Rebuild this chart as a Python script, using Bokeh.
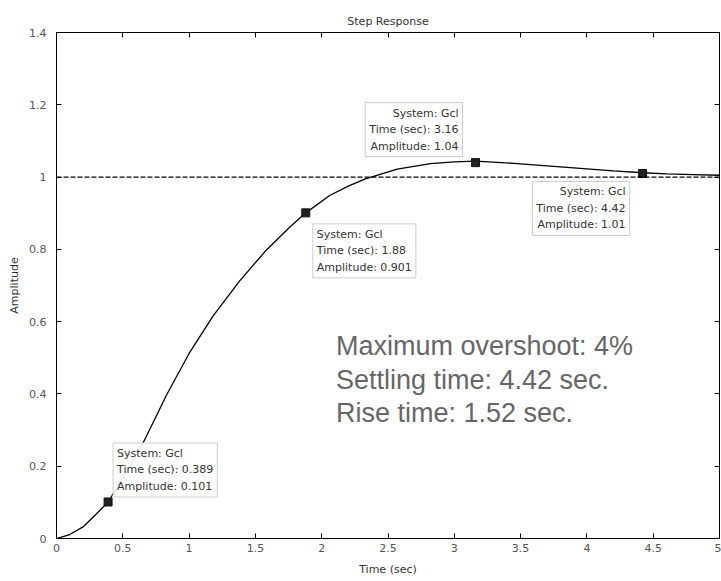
from bokeh.plotting import figure
from bokeh.models import Range1d, FixedTicker, LinearAxis, Span, Label
from bokeh.embed import file_html
from bokeh.resources import INLINE

# ---- data ----
time_s = [0, 0.1, 0.2, 0.3, 0.389, 0.5, 0.63, 0.83, 1.0, 1.18, 1.38, 1.58, 1.76,
          1.88, 2.06, 2.2, 2.33, 2.57, 2.82, 3.0, 3.16, 3.45, 3.7, 3.95, 4.2,
          4.42, 4.6, 4.8, 5.0]
amplitude = [0, 0.011, 0.032, 0.068, 0.101, 0.167, 0.247, 0.397, 0.512, 0.615, 0.712,
             0.797, 0.862, 0.901, 0.949, 0.975, 0.995, 1.022, 1.037, 1.042, 1.044,
             1.038, 1.031, 1.024, 1.017, 1.012, 1.009, 1.007, 1.005]

tip_time = [0.389, 1.88, 3.16, 4.42]
tip_amp = [0.101, 0.901, 1.04, 1.01]
tip_text = [
    "System: Gcl\nTime (sec): 0.389\nAmplitude: 0.101",
    "System: Gcl\nTime (sec): 1.88\nAmplitude: 0.901",
    "System: Gcl\nTime (sec): 3.16\nAmplitude: 1.04",
    "System: Gcl\nTime (sec): 4.42\nAmplitude: 1.01",
]

final_value = 1.0

x_ticks = [0, 0.5, 1, 1.5, 2, 2.5, 3, 3.5, 4, 4.5, 5]
x_tick_labels = ["0", "0.5", "1", "1.5", "2", "2.5", "3", "3.5", "4", "4.5", "5"]
y_ticks = [0, 0.2, 0.4, 0.6, 0.8, 1, 1.2, 1.4]
y_tick_labels = ["0", "0.2", "0.4", "0.6", "0.8", "1", "1.2", "1.4"]

notes = ["Maximum overshoot: 4%", "Settling time: 4.42 sec.", "Rise time: 1.52 sec."]

# ---- figure ----
SMALL = "DejaVu Sans"
p = figure(width=721, height=581, x_range=Range1d(0, 5), y_range=Range1d(0, 1.4),
           output_backend="svg", toolbar_location=None, title="Step Response",
           min_border_left=56, min_border_right=2, min_border_top=32,
           min_border_bottom=43)
p.title.align = "center"
p.title.text_font = SMALL
p.title.text_font_size = "11px"
p.title.text_font_style = "normal"
p.title.text_color = "#333333"
p.title.standoff = 10

p.xgrid.visible = False
p.ygrid.visible = False
p.outline_line_color = "black"
p.background_fill_color = "white"

for ax, ticks, labs in ((p.xaxis[0], x_ticks, x_tick_labels), (p.yaxis[0], y_ticks, y_tick_labels)):
    ax.ticker = FixedTicker(ticks=ticks)
    ax.major_label_overrides = dict(zip(ticks, labs))
    ax.major_tick_in = 5
    ax.major_tick_out = 0
    ax.minor_tick_line_color = None
    ax.axis_line_color = "black"
    ax.major_tick_line_color = "black"
    ax.major_label_text_font = SMALL
    ax.major_label_text_font_size = "11px"
    ax.major_label_text_color = "#555555"
    ax.axis_label_text_font = SMALL
    ax.axis_label_text_font_size = "11px"
    ax.axis_label_text_font_style = "normal"
    ax.axis_label_text_color = "#333333"

p.xaxis.axis_label = "Time (sec)"
p.xaxis.major_label_standoff = 5
p.xaxis.axis_label_standoff = 8
p.yaxis.axis_label = "Amplitude"
p.yaxis.major_label_standoff = 10
p.yaxis.axis_label_standoff = 5

top_ax = LinearAxis(ticker=FixedTicker(ticks=x_ticks),
                    major_label_overrides={t: "" for t in x_ticks},
                    major_tick_in=5, major_tick_out=0, minor_tick_line_color=None,
                    major_label_standoff=0, axis_line_color="black")
right_ax = LinearAxis(ticker=FixedTicker(ticks=y_ticks),
                      major_label_overrides={t: "" for t in y_ticks},
                      major_tick_in=5, major_tick_out=0, minor_tick_line_color=None,
                      major_label_standoff=0, axis_line_color="black")
p.add_layout(top_ax, "above")
p.add_layout(right_ax, "right")

# steady-state dashed line
p.add_layout(Span(location=final_value, dimension="width", line_color="black",
                  line_dash="5 2", line_width=1.3))

# response curve
p.line(time_s, amplitude, line_color="black", line_width=1.3)

# data tips
p.scatter(tip_time, tip_amp, marker="square", size=8, fill_color="#222222",
          line_color="#111111")

tip_style = [  # (x_offset, y_offset, align, baseline)
    (5, 5, "left", "bottom"),
    (7, -11, "left", "top"),
    (-13, 6, "right", "bottom"),
    (-13, -8, "right", "top"),
]
for t, a, txt, (xo, yo, al, bl) in zip(tip_time, tip_amp, tip_text, tip_style):
    p.add_layout(Label(x=t, y=a, text=txt, x_offset=xo, y_offset=yo,
                       text_align=al, text_baseline=bl,
                       text_font=SMALL, text_font_size="11px", text_color="#333333",
                       text_line_height=1.27,
                       background_fill_color="white", background_fill_alpha=0.9,
                       border_line_color="#cccccc", border_line_width=1,
                       padding=4))

# summary notes
note_x = 2.107
note_y = [0.532, 0.439, 0.347]
for ny, txt in zip(note_y, notes):
    p.add_layout(Label(x=note_x, y=ny, text=txt, text_align="left",
                       text_baseline="middle", text_font="Liberation Sans",
                       text_font_size="27px", text_color="#666666"))

open("out.html", "w").write(file_html(p, INLINE))
